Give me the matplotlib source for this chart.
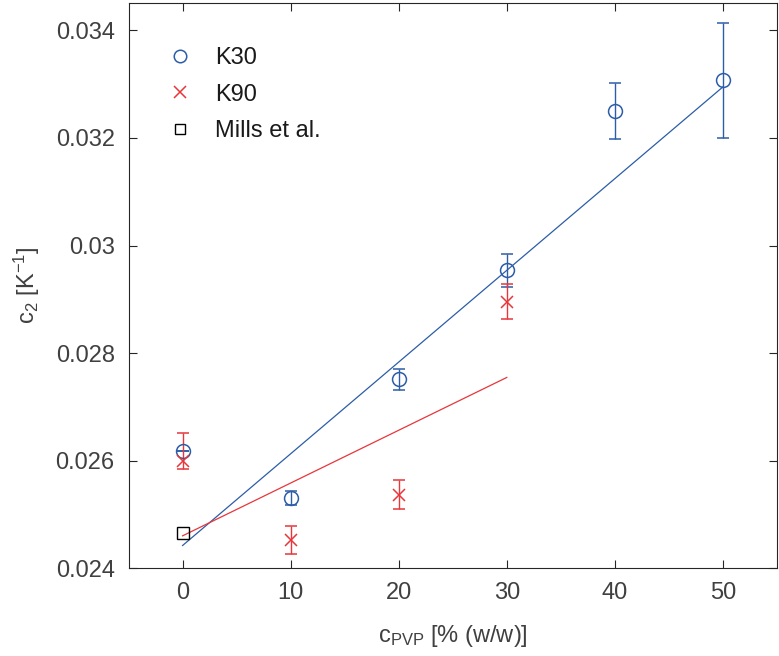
import matplotlib
matplotlib.use("Agg")
import matplotlib.pyplot as plt
from matplotlib.lines import Line2D

plt.rcParams["font.family"] = ["Liberation Sans", "DejaVu Sans"]
plt.rcParams["mathtext.fontset"] = "custom"
plt.rcParams["mathtext.rm"] = "Liberation Sans"
plt.rcParams["mathtext.it"] = "Liberation Sans"

# data
k30_x = [0, 10, 20, 30, 40, 50]
k30_y = [0.02617, 0.02531, 0.02751, 0.02954, 0.03251, 0.03307]
k30_err = [0.0, 0.00013, 0.0002, 0.00031, 0.00052, 0.00107]

k90_x = [0, 10, 20, 30]
k90_y = [0.02599, 0.02452, 0.025365, 0.02895]
k90_err_lo = [0.00015, 0.00026, 0.00027, 0.00031]
k90_err_hi = [0.00053, 0.00026, 0.00027, 0.00034]

mills_x = [0]
mills_y = [0.02465]

fit30_x = [0, 50]
fit30_y = [0.02442, 0.03295]
fit90_x = [0, 30]
fit90_y = [0.02460, 0.027546]

blue = "#2c5da8"
red = "#e8363b"
grey = "#404040"

fig = plt.figure(figsize=(7.79, 6.56), dpi=100)
ax = fig.add_axes([0.165, 0.134, 0.8324, 0.8614])

ax.plot(fit30_x, fit30_y, color=blue, lw=0.9)
ax.plot(fit90_x, fit90_y, color=red, lw=0.9)

ax.errorbar(k30_x, k30_y, yerr=k30_err, fmt="o", mfc="none", mec=blue, ecolor=blue,
            ms=10, mew=1.1, elinewidth=1.0, capsize=4, capthick=1.0)
ax.errorbar(k90_x, k90_y, yerr=[k90_err_lo, k90_err_hi], fmt="x", color=red, ms=9, mew=1.1,
            elinewidth=1.0, capsize=4, capthick=1.0)
ax.plot(mills_x, mills_y, "s", mfc="none", mec="black", ms=8, mew=1.0)

ax.set_xlim(-5, 55)
ax.set_ylim(0.024, 0.03451)
ax.set_xticks([0, 10, 20, 30, 40, 50])
ax.set_yticks([0.024, 0.026, 0.028, 0.03, 0.032, 0.034])
ax.set_yticklabels(["0.024", "0.026", "0.028", "0.03", "0.032", "0.034"])
ax.tick_params(direction="in", top=True, right=True, labelsize=17, colors="#262626",
               labelcolor=grey, length=6, width=0.8, pad=10)
for s in ax.spines.values():
    s.set_color("#262626")
    s.set_linewidth(0.8)

ax.set_xlabel(r"c$_{\mathrm{PVP}}$ [% (w/w)]", fontsize=17, color=grey, labelpad=14)
ax.set_ylabel(r"c$_{\mathrm{2}}$ [K$^{\mathrm{-1}}$]", fontsize=17, color=grey, labelpad=10)

handles = [
    Line2D([], [], ls="none", marker="o", mfc="none", mec=blue, ms=9, mew=1.1),
    Line2D([], [], ls="none", marker="x", color=red, ms=8, mew=1.1),
    Line2D([], [], ls="none", marker="s", mfc="none", mec="black", ms=7, mew=1.0),
]
leg = ax.legend(handles, ["K30", "K90", "Mills et al."], loc="upper left", frameon=False,
                fontsize=17, bbox_to_anchor=(0.024, 0.96),
                handletextpad=0.9, labelspacing=0.62, handlelength=1.2)
for t in leg.get_texts():
    t.set_color("#1a1a1a")

fig.savefig("out.png", dpi=100)
